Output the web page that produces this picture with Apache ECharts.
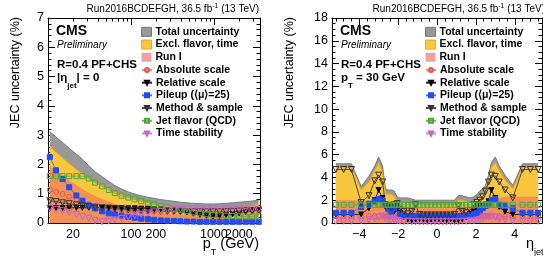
<!DOCTYPE html>
<html><head><meta charset="utf-8">
<script src="https://cdn.jsdelivr.net/npm/echarts@6/dist/echarts.min.js"></script>
<style>html,body{margin:0;padding:0;background:#fff}#c{width:543px;height:256px}</style>
</head><body><div id="c"></div>
<script>
// ---------- data: left panel (vs pT, |eta|=0) ----------
const ptValues = [10.5,12.5,15,18,22,26,31,37,45,54,64,77,93,111,133,160,191,229,275,330,395,473,567,680,815,977,1171,1404,1683,2017,2418,2900,3475];
const ptTotal  = [3.12,2.93,2.75,2.55,2.35,2.18,1.95,1.75,1.58,1.42,1.28,1.16,1.06,0.99,0.93,0.88,0.84,0.80,0.77,0.74,0.71,0.69,0.67,0.66,0.65,0.65,0.66,0.67,0.69,0.71,0.73,0.75,0.78];
const ptExcl   = [2.62,2.42,2.22,2.03,1.83,1.68,1.53,1.40,1.28,1.16,1.06,0.97,0.88,0.82,0.76,0.70,0.65,0.61,0.58,0.55,0.52,0.50,0.48,0.47,0.46,0.46,0.47,0.49,0.51,0.54,0.57,0.60,0.64];
const ptRun1   = [1.95,1.78,1.62,1.46,1.30,1.16,1.03,0.92,0.82,0.73,0.66,0.59,0.53,0.49,0.45,0.41,0.38,0.35,0.33,0.31,0.29,0.28,0.27,0.26,0.26,0.26,0.27,0.28,0.29,0.30,0.32,0.34,0.36];
const ptAbs    = [1.14,1.06,0.99,0.90,0.80,0.72,0.64,0.57,0.52,0.48,0.45,0.43,0.42,0.41,0.41,0.40,0.40,0.40,0.40,0.40,0.40,0.40,0.40,0.40,0.40,0.40,0.40,0.40,0.40,0.41,0.41,0.42,0.42];
const ptRel    = [0.50,0.51,0.51,0.52,0.52,0.52,0.52,0.52,0.52,0.52,0.51,0.51,0.50,0.50,0.49,0.48,0.47,0.46,0.44,0.42,0.39,0.36,0.32,0.28,0.25,0.23,0.24,0.27,0.30,0.33,0.37,0.40,0.43];
const ptPU     = [2.25,1.80,1.50,1.22,0.94,0.76,0.60,0.50,0.40,0.33,0.29,0.25,0.21,0.18,0.15,0.13,0.11,0.09,0.08,0.07,0.06,0.05,0.05,0.04,0.04,0.04,0.04,0.04,0.04,0.04,0.04,0.04,0.04];
const ptMeth   = [0.76,0.73,0.69,0.66,0.62,0.59,0.56,0.54,0.52,0.50,0.48,0.47,0.45,0.44,0.43,0.42,0.41,0.40,0.40,0.40,0.39,0.39,0.38,0.38,0.38,0.38,0.38,0.39,0.40,0.41,0.42,0.43,0.44];
const ptFlav   = [1.60,1.60,1.60,1.60,1.60,1.60,1.52,1.38,1.25,1.13,1.02,0.93,0.87,0.81,0.75,0.69,0.63,0.58,0.53,0.48,0.44,0.40,0.36,0.33,0.30,0.28,0.26,0.25,0.24,0.23,0.22,0.22,0.22];
const ptTime   = [0.51,0.47,0.42,0.36,0.29,0.22,0.16,0.08,0.04,0.06,0.11,0.16,0.21,0.25,0.30,0.34,0.38,0.41,0.44,0.46,0.47,0.48,0.48,0.48,0.48,0.48,0.48,0.48,0.48,0.48,0.48,0.48,0.48];

// ---------- data: right panel (vs eta, pT=30 GeV) ----------
const etaValues = [-5.2,-4.8,-4.4,-3.9,-3.5,-3.2,-3.0,-2.8,-2.65,-2.5,-2.35,-2.2,-2.05,-1.9,-1.7,-1.5,-1.3,-1.1,-0.9,-0.7,-0.5,-0.3,-0.1,0.1,0.3,0.5,0.7,0.9,1.1,1.3,1.5,1.7,1.9,2.05,2.2,2.35,2.5,2.65,2.8,3.0,3.2,3.5,3.9,4.4,4.8,5.2];
const etaTotal = [5.2,5.2,5.2,3.2,4.1,5.0,5.8,5.0,3.0,2.9,2.9,2.8,2.3,2.2,2.2,2.2,2.1,2.0,2.0,2.0,2.0,2.0,2.0,2.0,2.0,2.0,2.0,2.0,2.4,2.4,2.3,2.2,2.3,2.5,2.8,3.0,3.3,4.2,5.3,5.8,5.0,4.2,3.3,5.2,5.2,5.2];
const etaExcl  = [4.9,4.9,4.9,2.9,3.6,4.6,5.3,4.4,2.6,2.5,2.5,2.4,1.9,1.8,1.8,1.8,1.7,1.6,1.6,1.6,1.6,1.6,1.6,1.6,1.6,1.6,1.6,1.6,2.0,2.0,1.9,1.8,1.9,2.1,2.4,2.6,2.9,3.8,4.9,5.3,4.6,3.8,3.0,4.9,4.9,4.9];
const etaRun1  = [2.0,2.0,2.0,2.0,1.9,1.9,1.9,1.9,1.8,1.8,1.7,1.6,1.5,1.5,1.4,1.4,1.3,1.3,1.3,1.3,1.3,1.3,1.3,1.3,1.3,1.3,1.3,1.3,1.3,1.3,1.4,1.4,1.5,1.6,1.7,1.8,1.9,2.0,2.1,2.2,2.2,2.3,2.3,2.3,2.3,2.3];
const etaAbs   = [0.6,0.6,0.6,0.6,0.6,0.6,0.6,0.6,0.6,0.6,0.6,0.6,0.6,0.6,0.6,0.6,0.6,0.6,0.6,0.6,0.6,0.6,0.6,0.6,0.6,0.6,0.6,0.6,0.6,0.6,0.6,0.6,0.6,0.6,0.6,0.6,0.6,0.6,0.6,0.6,0.6,0.6,0.6,0.6,0.6,0.6];
const etaRel   = [0.75,0.75,0.75,0.75,1.3,2.0,2.9,2.2,1.4,1.2,1.4,1.0,1.2,0.9,0.5,0.3,0.2,0.3,0.35,0.3,0.25,0.3,0.35,0.35,0.3,0.25,0.3,0.2,0.25,0.3,0.5,0.8,1.0,1.2,1.5,1.4,1.6,1.9,2.9,2.2,1.4,1.0,0.75,0.75,0.75,0.75];
const etaPU    = [0.9,0.9,0.9,1.4,1.7,1.9,2.1,2.0,1.6,1.2,1.0,1.3,1.6,0.8,0.65,0.6,0.6,0.6,0.6,0.6,0.6,0.6,0.6,0.6,0.6,0.6,0.6,0.6,0.6,0.6,0.6,0.7,0.8,0.9,1.1,1.3,1.5,1.7,2.0,2.1,1.6,1.5,1.3,0.9,0.9,0.9];
const etaMeth  = [4.7,4.7,4.7,1.8,2.4,3.7,4.2,3.6,1.6,1.5,1.3,1.6,1.7,1.2,1.0,0.8,1.0,1.6,0.75,0.7,0.7,0.7,0.7,0.7,0.7,0.7,0.7,0.75,1.5,1.0,0.9,1.1,1.6,1.8,2.0,2.3,2.8,3.6,4.2,4.1,3.6,2.9,2.2,4.7,4.7,4.7];
const etaFlav  = [1.6,1.6,1.6,1.6,1.6,1.6,1.6,1.6,1.6,1.6,1.6,1.6,1.6,1.6,1.6,1.6,1.6,1.6,1.6,1.6,1.6,1.6,1.6,1.6,1.6,1.6,1.6,1.6,1.6,1.6,1.6,1.6,1.6,1.6,1.6,1.6,1.6,1.6,1.6,1.6,1.6,1.6,1.6,1.6,1.6,1.6];
const etaTime  = [0.15,0.15,0.15,0.2,0.3,0.35,0.5,0.6,0.4,0.3,0.25,0.3,0.2,0.15,0.1,0.15,0.1,0.1,0.1,0.1,0.1,0.1,0.1,0.1,0.1,0.1,0.1,0.1,0.1,0.15,0.15,0.2,0.2,0.25,0.3,0.35,0.45,0.55,0.6,0.5,0.35,0.3,0.2,0.15,0.15,0.15];

// ---------- tick labels ----------
const ptTickLabels = [20,100,200,1000];
const ptTickLabels2 = [2000];   // drawn on its own axis so it may overlap "1000" as in the original
const ptMajorTicks = [100,1000];
const ptMinorTicks = [20,30,40,50,60,70,80,90,200,300,400,500,600,700,800,900,2000,3000];
const etaTickLabels = [-4,-2,0,2,4];
const etaMinorTicks = [-5.2,-4.8,-4.4,-3.6,-3.2,-2.8,-2.4,-1.6,-1.2,-0.8,-0.4,0.4,0.8,1.2,1.6,2.4,2.8,3.2,3.6,4.4,4.8,5.2];

const names = {
  total:'Total uncertainty', excl:'Excl. flavor, time', run1:'Run I',
  abs:'Absolute scale', rel:'Relative scale', pu:'Pileup (\u27E8\u03BC\u27E9=25)',
  meth:'Method & sample', flav:'Jet flavor (QCD)', time:'Time stability'
};

// ---------- styles ----------
const FONT = '"Liberation Sans", Arial, Helvetica, sans-serif';
const bandStyle = {
  total:{fill:'#999999', line:'#7a7a7a', z:1},
  excl:{fill:'#f9c63e', line:'#f0a81e', z:2},
  run1:{fill:'rgba(238,100,100,0.55)', line:'rgba(236,96,100,0.0)', z:3}
};
const markStyle = {
  abs:{symbol:'circle', rot:0, size:5, stroke:'#e8574f', fill:'rgba(0,0,0,0)', line:'#f08a80'},
  rel:{symbol:'triangle', rot:180, size:5, stroke:'#000000', fill:'#000000', line:'#222222'},
  pu:{symbol:'rect', rot:0, size:5, stroke:'#1f4cf5', fill:'#1f4cf5', line:'#4f70e0'},
  meth:{symbol:'triangle', rot:180, size:6, stroke:'#333333', fill:'rgba(0,0,0,0)', line:'#444444'},
  flav:{symbol:'rect', rot:0, size:5, stroke:'#4fa63a', fill:'rgba(0,0,0,0)', line:'#6cb85a'},
  time:{symbol:'triangle', rot:180, size:6, stroke:'#c862c8', fill:'rgba(0,0,0,0)', line:'#cc88d2'}
};

function pairs(xs, ys){ return xs.map((x,i)=>[x, ys[i]]); }
function band(key, xi, yi, xs, ys){
  const s = bandStyle[key];
  return {name:names[key], type:'line', xAxisIndex:xi, yAxisIndex:yi, data:pairs(xs,ys),
    symbol:'none', z:s.z, silent:true, animation:false,
    lineStyle:{color:s.line, width:1}, itemStyle:{color:s.fill},
    areaStyle:{color:s.fill, opacity:1, origin:'start'}};
}
function marks(key, xi, yi, xs, ys){
  const s = markStyle[key];
  return {name:names[key], type:'line', xAxisIndex:xi, yAxisIndex:yi, data:pairs(xs,ys),
    symbol:s.symbol, symbolRotate:s.rot, symbolSize:s.size, showSymbol:true, z:5, animation:false,
    lineStyle:{color:s.line, width:1},
    itemStyle:{color:s.fill, borderColor:s.stroke, borderWidth:1}};
}

const series = [
  band('total',0,0,ptValues,ptTotal), band('excl',0,0,ptValues,ptExcl), band('run1',0,0,ptValues,ptRun1),
  marks('abs',0,0,ptValues,ptAbs), marks('rel',0,0,ptValues,ptRel), marks('pu',0,0,ptValues,ptPU),
  marks('meth',0,0,ptValues,ptMeth), marks('flav',0,0,ptValues,ptFlav), marks('time',0,0,ptValues,ptTime),
  band('total',4,2,etaValues,etaTotal), band('excl',4,2,etaValues,etaExcl), band('run1',4,2,etaValues,etaRun1),
  marks('abs',4,2,etaValues,etaAbs), marks('rel',4,2,etaValues,etaRel), marks('pu',4,2,etaValues,etaPU),
  marks('meth',4,2,etaValues,etaMeth), marks('flav',4,2,etaValues,etaFlav), marks('time',4,2,etaValues,etaTime)
];

const black = {color:'#000', width:1};
const labelStyle = {color:'#000', fontFamily:FONT, fontSize:12.5};
function xAx(grid, type, range, pos, ticks, len, labels, showLine, fmt){
  return {gridIndex:grid, type:type, min:range[0], max:range[1], position:pos,
    axisLine:{show:showLine, onZero:false, lineStyle:black},
    axisTick:{show:true, inside:true, length:len, customValues:ticks, lineStyle:black},
    axisLabel: labels ? Object.assign({show:true, margin:5, hideOverlap:false, showMinLabel:true, showMaxLabel:true, customValues:labels, formatter:fmt}, labelStyle) : {show:false},
    splitLine:{show:false}, minorTick:{show:false}, minorSplitLine:{show:false}};
}
function yAx(grid, pos, max, interval, minorSplit, labels){
  return {gridIndex:grid, type:'value', min:0, max:max, interval:interval, position:pos,
    axisLine:{show:true, onZero:false, lineStyle:black},
    axisTick:{show:true, inside:true, length:7, lineStyle:black},
    minorTick:{show:true, splitNumber:minorSplit, length:3.5, lineStyle:black},
    axisLabel: labels ? Object.assign({show:true, margin:4}, labelStyle) : {show:false},
    splitLine:{show:false}};
}
const ptFmt = v => String(Math.round(v));
const etaFmt = v => (v < 0 ? '\u2212' + Math.abs(v) : String(v));

const bandLegendData = [
  {name:names.total, icon:'rect', itemStyle:{color:bandStyle.total.fill, borderColor:'#777', borderWidth:1}},
  {name:names.excl, icon:'rect', itemStyle:{color:bandStyle.excl.fill, borderColor:'#f0a81e', borderWidth:1}},
  {name:names.run1, icon:'rect', itemStyle:{color:'#f3a0a2'}}
];
const markLegendData = [names.abs, names.rel, names.pu, names.meth, names.flav, names.time];
function legendAt(left, top, data, ih){
  return {show:true, orient:'vertical', left:left, top:top, padding:0, itemGap:0,
    itemWidth:10, itemHeight:ih, selectedMode:false, data:data,
    textStyle:{fontFamily:FONT, fontWeight:'bold', fontSize:10.5, lineHeight:12.7, color:'#000', padding:[0,0,0,-1]}};
}

function txt(x, y, text, o){
  return Object.assign({type:'text', x:x, y:y, silent:true, z:100,
    style:Object.assign({text:text, fill:'#000', fontFamily:FONT, fontSize:11, align:'left', verticalAlign:'middle'}, o.style||{})},
    o.extra||{});
}
const subRich = {sub:{fontSize:8, fontWeight:'bold', verticalAlign:'bottom', lineHeight:9, padding:[0,0,-5,0]}};
const supRich = {sup:{fontSize:7, verticalAlign:'top', lineHeight:7}};

const graphics = [];
[[0,48,259,16],[1,332,545,290]].forEach(([p, x0, xr, xt])=>{
  graphics.push(txt(xr, 9, 'Run2016BCDEFGH, 36.5 fb{sup|-1} (13 TeV)', {style:{align:'right', fontSize:10, rich:supRich, lineHeight:12}}));
  graphics.push(txt(x0+8, 31, 'CMS', {style:{fontWeight:'bold', fontSize:14}}));
  graphics.push(txt(x0+9, 45, 'Preliminary', {style:{fontStyle:'italic', fontSize:10}}));
  graphics.push(txt(x0+9, 65, 'R=0.4 PF+CHS', {style:{fontWeight:'bold', fontSize:11.5}}));
  graphics.push(txt(x0+9, 78, p===0 ? '|\u03B7{sub|jet}| = 0' : 'p{sub|T} = 30 GeV', {style:{fontWeight:'bold', fontSize:11.5, rich:subRich, lineHeight:13}}));
  graphics.push(txt(xt, 17, 'JEC uncertainty (%)', {style:{align:'right', fontSize:12.5}, extra:{rotation:Math.PI/2}}));
});
graphics.push(txt(259, 244, 'p{sub|T} (GeV)', {style:{align:'right', fontSize:14.5, lineHeight:16, rich:{sub:{fontSize:9, verticalAlign:'bottom', lineHeight:9, padding:[0,0,-5,0]}}}}));
graphics.push(txt(526, 244, '\u03B7{sub|jet}', {style:{align:'left', fontSize:14.5, lineHeight:16, rich:{sub:{fontSize:9, verticalAlign:'bottom', lineHeight:9, padding:[0,0,-5,0]}}}}));

const option = {
  animation:false,
  backgroundColor:'#fff',
  grid:[
    {left:48, top:18, width:212, height:205, containLabel:false},
    {left:332, top:18, width:210, height:205, containLabel:false}
  ],
  xAxis:[
    xAx(0,'log',[10,3600],'bottom',ptMinorTicks,3.5,ptTickLabels,true,ptFmt),
    xAx(0,'log',[10,3600],'bottom',ptMajorTicks,7,ptTickLabels2,false,ptFmt),
    xAx(0,'log',[10,3600],'top',ptMinorTicks,3.5,null,true),
    xAx(0,'log',[10,3600],'top',ptMajorTicks,7,null,false),
    xAx(1,'value',[-5.4,5.4],'bottom',etaMinorTicks,3.5,etaTickLabels,true,etaFmt),
    xAx(1,'value',[-5.4,5.4],'bottom',etaTickLabels,7,null,false),
    xAx(1,'value',[-5.4,5.4],'top',etaMinorTicks,3.5,null,true),
    xAx(1,'value',[-5.4,5.4],'top',etaTickLabels,7,null,false)
  ],
  yAxis:[
    yAx(0,'left',7,1,5,true), yAx(0,'right',7,1,5,false),
    yAx(1,'left',18,2,4,true), yAx(1,'right',18,2,4,false)
  ],
  legend:[
    legendAt(141, 25.5, bandLegendData, 9), legendAt(141, 63.6, markLegendData, 5),
    legendAt(425, 25.5, bandLegendData, 9), legendAt(425, 63.6, markLegendData, 5)
  ],
  series:series,
  graphic:graphics
};
const chart = echarts.init(document.getElementById('c'), null, {renderer:'canvas'});
chart.setOption(option);
</script></body></html>
